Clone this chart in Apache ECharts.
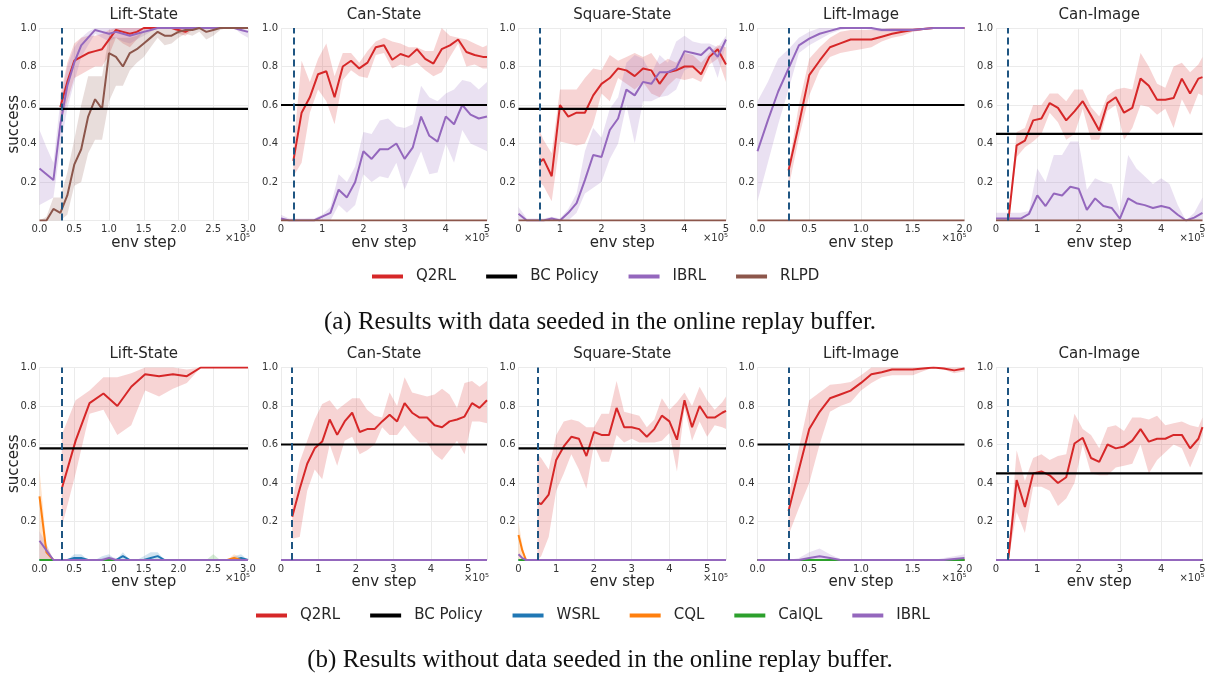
<!DOCTYPE html>
<html>
<head>
<meta charset="utf-8">
<script src="https://cdn.jsdelivr.net/npm/echarts@6/dist/echarts.min.js"></script>
<style>
html, body { margin: 0; padding: 0; background: #fff; }
#chart { width: 1206px; height: 675px; }
</style>
</head>
<body>
<div id="chart"></div>
<script>
// ------------------------------------------------------------------ //
// labels
const titles = ['Lift-State', 'Can-State', 'Square-State', 'Lift-Image', 'Can-Image'];
const captionA = '(a) Results with data seeded in the online replay buffer.';
const captionB = '(b) Results without data seeded in the online replay buffer.';
const legendA = ['Q2RL', 'BC Policy', 'IBRL', 'RLPD'];
const legendB = ['Q2RL', 'BC Policy', 'WSRL', 'CQL', 'CalQL', 'IBRL'];

// x extents (x10^5 env steps), tick step, BC policy level, seeding step
const xMaxA = [3, 5, 5, 2, 5];
const xMaxB = [3, 5.5, 5.5, 2, 5];
const xTickStep = [0.5, 1, 1, 0.5, 1];
const bcA = [0.58, 0.6, 0.58, 0.6, 0.45];
const bcB = [0.58, 0.6, 0.58, 0.6, 0.45];
const seedStep = [0.32, 0.3, 0.5, 0.3, 0.28];

// shared x grids
const xTenth3 = [0, 0.1, 0.2, 0.3, 0.4, 0.5, 0.6, 0.7, 0.8, 0.9, 1.0, 1.1, 1.2, 1.3, 1.4, 1.5, 1.6, 1.7, 1.8, 1.9, 2.0, 2.1, 2.2, 2.3, 2.4, 2.5, 2.6, 2.7, 2.8, 2.9, 3.0];
const xTenth2 = [0, 0.1, 0.2, 0.3, 0.4, 0.5, 0.6, 0.7, 0.8, 0.9, 1.0, 1.1, 1.2, 1.3, 1.4, 1.5, 1.6, 1.7, 1.8, 1.9, 2.0];
const xFifth5 = [0, 0.2, 0.4, 0.6, 0.8, 1.0, 1.2, 1.4, 1.6, 1.8, 2.0, 2.2, 2.4, 2.6, 2.8, 3.0, 3.2, 3.4, 3.6, 3.8, 4.0, 4.2, 4.4, 4.6, 4.8, 5.0];
const xOdd5 = [0.3, 0.5, 0.7, 0.9, 1.1, 1.3, 1.5, 1.7, 1.9, 2.1, 2.3, 2.5, 2.7, 2.9, 3.1, 3.3, 3.5, 3.7, 3.9, 4.1, 4.3, 4.5, 4.7, 4.9, 5.0];

// ---------------- (a) with seeded data ---------------- //
// Lift-State
const aLiftQ2X = [0.3, 0.4, 0.5, 0.6, 0.7, 0.8, 0.9, 1.0, 1.1, 1.2, 1.3, 1.4, 1.5, 1.6, 1.7, 1.8, 1.9, 2.0, 2.1, 2.2, 2.3, 2.4, 2.5, 2.6, 2.7, 2.8, 2.9, 3.0];
const aLiftQ2 = [0.59, 0.72, 0.83, 0.85, 0.87, 0.88, 0.89, 0.94, 0.99, 0.98, 0.97, 0.98, 1, 1, 1, 1, 1, 0.99, 0.98, 1, 1, 1, 1, 1, 1, 1, 1, 1];
const aLiftQ2Hi = [0.65, 0.82, 0.92, 0.95, 0.96, 0.96, 0.97, 0.99, 1, 1, 1, 1, 1, 1, 1, 1, 1, 1, 1, 1, 1, 1, 1, 1, 1, 1, 1, 1];
const aLiftQ2Lo = [0.50, 0.62, 0.74, 0.76, 0.78, 0.80, 0.80, 0.86, 0.95, 0.92, 0.90, 0.94, 0.98, 1, 1, 1, 1, 0.97, 0.96, 0.99, 1, 1, 1, 1, 1, 1, 1, 1];
const aLiftIb = [0.27, 0.24, 0.21, 0.50, 0.70, 0.82, 0.91, 0.95, 0.99, 0.98, 0.97, 0.98, 0.97, 0.96, 0.97, 0.98, 0.99, 1, 1, 1, 1, 1, 1, 1, 1, 1, 1, 1, 1, 0.99, 0.98];
const aLiftIbHi = [0.47, 0.38, 0.30, 0.62, 0.80, 0.90, 0.95, 0.98, 1, 1, 1, 1, 1, 1, 1, 1, 1, 1, 1, 1, 1, 1, 1, 1, 1, 1, 1, 1, 1, 1, 0.99];
const aLiftIbLo = [0.08, 0.10, 0.12, 0.38, 0.58, 0.72, 0.85, 0.91, 0.97, 0.95, 0.93, 0.95, 0.93, 0.92, 0.94, 0.96, 0.98, 1, 1, 1, 1, 1, 1, 1, 1, 1, 1, 1, 1, 0.97, 0.95];
const aLiftRl = [0, 0, 0.06, 0.04, 0.13, 0.29, 0.37, 0.54, 0.63, 0.58, 0.87, 0.85, 0.80, 0.87, 0.89, 0.92, 0.95, 0.98, 0.96, 0.96, 0.98, 0.99, 0.99, 1, 0.98, 0.99, 1, 1, 1, 1, 1];
const aLiftRlHi = [0, 0.02, 0.12, 0.12, 0.25, 0.42, 0.60, 0.75, 0.75, 0.75, 0.96, 0.95, 0.95, 0.95, 0.96, 0.98, 0.99, 1, 1, 1, 1, 1, 1, 1, 1, 1, 1, 1, 1, 1, 1];
const aLiftRlLo = [0, 0, 0, 0, 0.03, 0.18, 0.20, 0.35, 0.42, 0.42, 0.62, 0.70, 0.70, 0.78, 0.82, 0.85, 0.90, 0.95, 0.91, 0.92, 0.95, 0.97, 0.96, 0.98, 0.94, 0.96, 0.99, 1, 1, 1, 1];

// Can-State
const aCanQ2 = [0.31, 0.56, 0.64, 0.76, 0.775, 0.64, 0.80, 0.83, 0.79, 0.82, 0.90, 0.91, 0.835, 0.865, 0.85, 0.89, 0.84, 0.815, 0.89, 0.91, 0.94, 0.875, 0.86, 0.85, 0.85];
const aCanQ2Hi = [0.37, 0.83, 0.72, 0.84, 0.92, 0.75, 0.87, 0.87, 0.82, 0.88, 0.93, 0.95, 0.93, 0.92, 0.90, 0.90, 0.88, 0.88, 1.0, 0.96, 0.95, 0.94, 0.92, 0.90, 0.91];
const aCanQ2Lo = [0.23, 0.30, 0.56, 0.68, 0.62, 0.50, 0.73, 0.78, 0.75, 0.74, 0.86, 0.87, 0.79, 0.81, 0.80, 0.82, 0.78, 0.75, 0.77, 0.85, 0.92, 0.80, 0.81, 0.79, 0.79];
const aCanIb = [0.01, 0, 0, 0, 0, 0.02, 0.04, 0.16, 0.12, 0.20, 0.36, 0.32, 0.37, 0.37, 0.40, 0.32, 0.38, 0.54, 0.44, 0.41, 0.54, 0.50, 0.60, 0.55, 0.53, 0.54];
const aCanIbHi = [0.03, 0.01, 0.01, 0.01, 0.01, 0.03, 0.07, 0.24, 0.20, 0.28, 0.46, 0.45, 0.52, 0.53, 0.49, 0.48, 0.50, 0.70, 0.64, 0.62, 0.66, 0.68, 0.73, 0.72, 0.68, 0.72];
const aCanIbLo = [0, 0, 0, 0, 0, 0, 0, 0.08, 0.04, 0.08, 0.24, 0.20, 0.23, 0.22, 0.30, 0.16, 0.26, 0.36, 0.24, 0.25, 0.40, 0.30, 0.47, 0.40, 0.38, 0.36];

// Square-State
const aSqQ2X = [0.5, 0.6, 0.8, 1.0, 1.2, 1.4, 1.6, 1.8, 2.0, 2.2, 2.4, 2.6, 2.8, 3.0, 3.2, 3.4, 3.6, 3.8, 4.0, 4.2, 4.4, 4.6, 4.8, 5.0];
const aSqQ2 = [0.30, 0.32, 0.23, 0.60, 0.54, 0.56, 0.56, 0.65, 0.71, 0.74, 0.79, 0.78, 0.75, 0.79, 0.78, 0.71, 0.77, 0.78, 0.80, 0.80, 0.76, 0.85, 0.89, 0.81];
const aSqQ2Hi = [0.47, 0.42, 0.35, 0.68, 0.68, 0.68, 0.74, 0.79, 0.78, 0.86, 0.83, 0.85, 0.87, 0.85, 0.87, 0.81, 0.84, 0.82, 0.87, 0.86, 0.82, 0.87, 0.91, 0.90];
const aSqQ2Lo = [0.20, 0.18, 0.10, 0.41, 0.40, 0.39, 0.40, 0.50, 0.66, 0.62, 0.74, 0.71, 0.68, 0.72, 0.66, 0.64, 0.70, 0.74, 0.73, 0.74, 0.72, 0.81, 0.84, 0.72];
const aSqIb = [0.035, 0, 0, 0, 0.01, 0, 0.04, 0.09, 0.21, 0.34, 0.33, 0.47, 0.53, 0.68, 0.65, 0.72, 0.71, 0.77, 0.77, 0.79, 0.88, 0.87, 0.86, 0.90, 0.85, 0.94];
const aSqIbHi = [0.07, 0.01, 0.01, 0.01, 0.02, 0.01, 0.06, 0.14, 0.36, 0.48, 0.43, 0.58, 0.64, 0.82, 0.86, 0.84, 0.76, 0.86, 0.82, 0.93, 0.96, 0.93, 0.92, 0.92, 0.90, 0.96];
const aSqIbLo = [0, 0, 0, 0, 0, 0, 0, 0.04, 0.14, 0.17, 0.20, 0.32, 0.40, 0.60, 0.40, 0.62, 0.62, 0.64, 0.65, 0.68, 0.78, 0.80, 0.78, 0.86, 0.74, 0.92];

// Lift-Image
const aLiImQ2X = [0.3, 0.4, 0.5, 0.6, 0.7, 0.8, 0.9, 1.0, 1.1, 1.2, 1.3, 1.4, 1.5, 1.6, 1.7, 1.8, 1.9, 2.0];
const aLiImQ2 = [0.26, 0.50, 0.755, 0.83, 0.90, 0.92, 0.94, 0.94, 0.94, 0.955, 0.97, 0.98, 0.99, 0.995, 1, 1, 1, 1];
const aLiImQ2Hi = [0.28, 0.60, 0.84, 0.90, 0.95, 0.98, 0.99, 0.99, 0.99, 0.995, 1, 1, 1, 1, 1, 1, 1, 1];
const aLiImQ2Lo = [0.17, 0.43, 0.65, 0.78, 0.85, 0.87, 0.88, 0.89, 0.90, 0.93, 0.95, 0.96, 0.98, 0.99, 1, 1, 1, 1];
const aLiImIb = [0.36, 0.52, 0.67, 0.79, 0.91, 0.945, 0.97, 0.985, 1, 1, 1, 1, 0.99, 0.99, 0.99, 0.99, 0.995, 1, 1, 1, 1];
const aLiImIbHi = [0.62, 0.72, 0.84, 0.89, 0.95, 0.98, 1, 1, 1, 1, 1, 1, 1, 1, 1, 1, 1, 1, 1, 1, 1];
const aLiImIbLo = [0.10, 0.30, 0.50, 0.68, 0.87, 0.91, 0.94, 0.97, 0.99, 1, 1, 0.99, 0.98, 0.98, 0.98, 0.98, 0.99, 1, 1, 1, 1];

// Can-Image
const aCaImQ2 = [0, 0.39, 0.415, 0.52, 0.53, 0.61, 0.585, 0.52, 0.567, 0.62, 0.546, 0.468, 0.61, 0.64, 0.56, 0.585, 0.737, 0.70, 0.627, 0.627, 0.636, 0.737, 0.66, 0.737, 0.745];
const aCaImQ2Hi = [0, 0.46, 0.48, 0.60, 0.60, 0.66, 0.66, 0.62, 0.68, 0.68, 0.59, 0.54, 0.65, 0.68, 0.69, 0.68, 0.87, 0.80, 0.71, 0.69, 0.80, 0.82, 0.77, 0.81, 0.85];
const aCaImQ2Lo = [0, 0.33, 0.38, 0.41, 0.45, 0.56, 0.51, 0.42, 0.45, 0.58, 0.42, 0.42, 0.57, 0.60, 0.42, 0.48, 0.60, 0.59, 0.55, 0.58, 0.48, 0.63, 0.55, 0.66, 0.65];
const aCaImIb = [0.01, 0.01, 0.01, 0.01, 0.035, 0.13, 0.075, 0.14, 0.13, 0.175, 0.165, 0.055, 0.115, 0.075, 0.065, 0.01, 0.115, 0.09, 0.08, 0.065, 0.075, 0.065, 0.03, 0, 0.015, 0.04];
const aCaImIbHi = [0.04, 0.04, 0.04, 0.04, 0.05, 0.27, 0.20, 0.34, 0.34, 0.41, 0.41, 0.16, 0.22, 0.20, 0.19, 0.05, 0.34, 0.27, 0.23, 0.19, 0.22, 0.19, 0.08, 0, 0.04, 0.12];
const aCaImIbLo = [0, 0, 0, 0, 0, 0, 0, 0, 0, 0, 0, 0, 0, 0, 0, 0, 0, 0, 0, 0, 0, 0, 0, 0, 0, 0];

// RLPD stays at zero outside Lift-State
const zeroX5 = [0, 5];
const zeroX2 = [0, 2];
const zeroPair = [0, 0];

// ---------------- (b) without seeded data ---------------- //
// Lift-State
const bLiftQ2X = [0.32, 0.52, 0.72, 0.92, 1.12, 1.32, 1.52, 1.72, 1.92, 2.12, 2.32, 2.52, 2.72, 2.92, 3.0];
const bLiftQ2 = [0.37, 0.62, 0.815, 0.865, 0.80, 0.90, 0.965, 0.955, 0.965, 0.955, 1, 1, 1, 1, 1];
const bLiftQ2Hi = [0.65, 0.83, 0.88, 0.95, 0.95, 0.97, 1, 1, 1, 0.99, 1, 1, 1, 1, 1];
const bLiftQ2Lo = [0.17, 0.45, 0.76, 0.78, 0.65, 0.70, 0.88, 0.85, 0.89, 0.92, 1, 1, 1, 1, 1];
const bLiftWs = [0, 0, 0, 0, 0, 0.01, 0.01, 0, 0, 0, 0, 0, 0.02, 0, 0, 0, 0.01, 0.02, 0, 0, 0, 0, 0, 0, 0, 0, 0, 0, 0, 0.01, 0];
const bLiftWsHi = [0, 0, 0, 0, 0, 0.03, 0.03, 0, 0, 0.02, 0.03, 0, 0.04, 0, 0, 0.02, 0.04, 0.04, 0, 0, 0, 0, 0, 0, 0, 0, 0, 0, 0.02, 0.03, 0];
const bLiftCq = [0.33, 0.04, 0, 0, 0, 0, 0, 0, 0, 0, 0, 0, 0, 0, 0, 0, 0, 0, 0, 0, 0, 0, 0, 0, 0, 0, 0, 0, 0.01, 0, 0];
const bLiftCqHi = [0.47, 0.08, 0, 0, 0, 0, 0, 0, 0, 0, 0, 0, 0, 0, 0, 0, 0, 0, 0, 0, 0, 0, 0, 0, 0, 0, 0, 0, 0.03, 0.01, 0];
const bLiftCa = [0, 0, 0, 0, 0, 0, 0, 0, 0, 0, 0, 0, 0, 0, 0, 0, 0, 0, 0, 0, 0, 0, 0, 0, 0, 0, 0, 0, 0, 0, 0];
const bLiftCaHi = [0, 0, 0, 0, 0, 0, 0, 0, 0, 0, 0, 0, 0, 0, 0, 0, 0, 0, 0, 0, 0, 0, 0, 0, 0, 0.03, 0, 0, 0, 0, 0];
const bLiftIb = [0.10, 0.05, 0, 0, 0, 0, 0, 0, 0, 0, 0.01, 0, 0, 0, 0, 0, 0, 0, 0, 0, 0, 0, 0, 0, 0, 0, 0, 0, 0, 0, 0];
const bLiftIbHi = [0.15, 0.08, 0, 0, 0, 0, 0, 0, 0, 0.01, 0.02, 0.01, 0, 0, 0, 0, 0, 0, 0, 0, 0, 0, 0, 0, 0, 0, 0, 0, 0, 0, 0];
const bLiftZero = [0, 0, 0, 0, 0, 0, 0, 0, 0, 0, 0, 0, 0, 0, 0, 0, 0, 0, 0, 0, 0, 0, 0, 0, 0, 0, 0, 0, 0, 0, 0];

// Can-State
const bCanQ2X = [0.3, 0.5, 0.7, 0.9, 1.1, 1.3, 1.5, 1.7, 1.9, 2.1, 2.3, 2.5, 2.7, 2.9, 3.1, 3.3, 3.5, 3.7, 3.9, 4.1, 4.3, 4.5, 4.7, 4.9, 5.1, 5.3, 5.5];
const bCanQ2 = [0.225, 0.37, 0.50, 0.58, 0.615, 0.73, 0.65, 0.72, 0.765, 0.665, 0.68, 0.68, 0.72, 0.755, 0.72, 0.815, 0.765, 0.74, 0.74, 0.70, 0.69, 0.72, 0.73, 0.745, 0.815, 0.79, 0.83];
const bCanQ2Hi = [0.30, 0.51, 0.62, 0.73, 0.81, 0.83, 0.78, 0.81, 0.84, 0.84, 0.78, 0.75, 0.74, 0.87, 0.80, 0.95, 0.87, 0.86, 0.85, 0.86, 0.89, 0.86, 0.79, 0.92, 0.93, 0.90, 0.93];
const bCanQ2Lo = [0.11, 0.12, 0.36, 0.47, 0.42, 0.60, 0.49, 0.62, 0.64, 0.55, 0.57, 0.60, 0.69, 0.65, 0.65, 0.70, 0.65, 0.61, 0.61, 0.55, 0.52, 0.57, 0.62, 0.55, 0.72, 0.72, 0.71];
const zeroX55 = [0, 5.5];

// Square-State
const bSqQ2X = [0.5, 0.6, 0.8, 1.0, 1.2, 1.4, 1.6, 1.8, 2.0, 2.2, 2.4, 2.6, 2.8, 3.0, 3.2, 3.4, 3.6, 3.8, 4.0, 4.2, 4.4, 4.6, 4.8, 5.0, 5.2, 5.4, 5.5];
const bSqQ2 = [0.30, 0.29, 0.34, 0.52, 0.59, 0.64, 0.63, 0.54, 0.665, 0.65, 0.65, 0.79, 0.69, 0.69, 0.68, 0.64, 0.68, 0.75, 0.72, 0.625, 0.83, 0.69, 0.80, 0.74, 0.74, 0.765, 0.775];
const bSqQ2Hi = [0.55, 0.53, 0.47, 0.65, 0.72, 0.73, 0.72, 0.69, 0.69, 0.76, 0.76, 0.93, 0.77, 0.76, 0.75, 0.69, 0.73, 0.84, 0.78, 0.82, 0.87, 0.80, 0.90, 0.83, 0.78, 0.82, 0.85];
const bSqQ2Lo = [0.0, 0.02, 0.12, 0.36, 0.45, 0.55, 0.47, 0.37, 0.60, 0.51, 0.51, 0.65, 0.61, 0.63, 0.61, 0.61, 0.61, 0.62, 0.66, 0.46, 0.79, 0.62, 0.72, 0.64, 0.70, 0.69, 0.68];
const bSqBaseX = [0, 0.1, 0.2, 5.5];
const bSqCq = [0.13, 0.05, 0, 0];
const bSqCqHi = [0.20, 0.08, 0, 0];
const bSqIb = [0.03, 0.01, 0, 0];
const bSqZero = [0, 0, 0, 0];

// Lift-Image
const bLiImQ2 = [0.255, 0.47, 0.68, 0.77, 0.84, 0.86, 0.88, 0.92, 0.965, 0.975, 0.99, 0.99, 0.99, 0.995, 1.0, 0.995, 0.985, 0.995];
const bLiImQ2Hi = [0.33, 0.58, 0.83, 0.87, 0.91, 0.915, 0.925, 0.96, 1, 1, 1, 1, 1, 1, 1, 1, 1, 1];
const bLiImQ2Lo = [0.13, 0.27, 0.40, 0.60, 0.77, 0.80, 0.82, 0.88, 0.92, 0.95, 0.96, 0.96, 0.96, 0.98, 1, 0.99, 0.97, 0.98];
const bLiImIb = [0, 0, 0, 0, 0, 0.01, 0.02, 0.01, 0, 0, 0, 0, 0, 0, 0, 0, 0, 0, 0, 0.005, 0.01];
const bLiImIbHi = [0, 0, 0, 0, 0.01, 0.04, 0.06, 0.03, 0.005, 0, 0, 0, 0, 0, 0, 0, 0, 0, 0.01, 0.02, 0.03];
const bLiImIbLo = [0, 0, 0, 0, 0, 0, 0, 0, 0, 0, 0, 0, 0, 0, 0, 0, 0, 0, 0, 0, 0];

// Can-Image
const bCaImQ2 = [0.01, 0.415, 0.275, 0.45, 0.46, 0.44, 0.40, 0.43, 0.605, 0.635, 0.53, 0.51, 0.60, 0.58, 0.59, 0.62, 0.68, 0.615, 0.63, 0.63, 0.65, 0.65, 0.58, 0.63, 0.69];
const bCaImQ2Hi = [0.03, 0.57, 0.41, 0.53, 0.55, 0.52, 0.54, 0.55, 0.76, 0.68, 0.65, 0.58, 0.69, 0.70, 0.67, 0.74, 0.74, 0.73, 0.75, 0.70, 0.71, 0.72, 0.70, 0.69, 0.74];
const bCaImQ2Lo = [0, 0.25, 0.14, 0.38, 0.38, 0.36, 0.28, 0.32, 0.40, 0.60, 0.45, 0.44, 0.44, 0.48, 0.49, 0.50, 0.60, 0.45, 0.52, 0.56, 0.60, 0.58, 0.48, 0.58, 0.65];

// ------------------------------------------------------------------ //
const colors = {
    Q2RL: '#d62728', IBRL: '#9467bd', RLPD: '#8c564b',
    WSRL: '#1f77b4', CQL: '#ff7f0e', CalQL: '#2ca02c'
};

const panelLeft = [39.5, 281, 518.5, 757.5, 996];
const panelWidth = [208.5, 206, 207.5, 207, 206.5];
const rowTop = [28, 367.5];
const rowHeight = 192.5;
const FONT = 'DejaVu Sans';

const legendBase = {
    padding: 0, icon: 'rect', itemWidth: 31, itemHeight: 4, itemGap: 30,
    textStyle: { fontSize: 15, color: '#262626', padding: [0, 0, 0, 8], fontFamily: FONT }
};

const option = {
    animation: false,
    backgroundColor: '#ffffff',
    textStyle: { fontFamily: FONT },
    grid: [], xAxis: [], yAxis: [], series: [], graphic: [],
    legend: [
        Object.assign({ data: legendA, left: 372, top: 269 }, legendBase),
        Object.assign({ data: legendB, left: 256, top: 608 }, legendBase)
    ]
};

function curve (name, x, y, lo, hi) {
    return { name, x, y, lo, hi, color: colors[name] };
}

function bandSeries (k, c) {
    return {
        type: 'custom', xAxisIndex: k, yAxisIndex: k, silent: true, z: 1,
        data: [[c.x[0], c.y[0]]],
        renderItem (params, api) {
            const upper = c.x.map((x, i) => api.coord([x, c.hi[i]]));
            const lower = c.x.map((x, i) => api.coord([x, c.lo[i]])).reverse();
            return {
                type: 'polygon',
                shape: { points: upper.concat(lower) },
                style: { fill: c.color, opacity: 0.2 }
            };
        }
    };
}

function addPanel (row, col, xMax, bc, curves) {

    const k = option.grid.length;
    const left = panelLeft[col], width = panelWidth[col], top = rowTop[row];
    const step = xTickStep[col];

    option.grid.push({ left, top, width, height: rowHeight, outerBoundsMode: 'none' });

    option.xAxis.push({
        type: 'value', gridIndex: k, min: 0, max: xMax, interval: step,
        axisLine: { show: false }, axisTick: { show: false },
        splitLine: { lineStyle: { color: '#ebebeb', width: 1 } },
        axisLabel: {
            fontSize: 10, color: '#333', margin: 4, fontFamily: FONT,
            formatter: v => Math.abs(v / step - Math.round(v / step)) > 1e-6 ? '' : v.toFixed(step < 1 ? 1 : 0)
        },
        name: 'env step', nameLocation: 'middle', nameGap: 14,
        nameTextStyle: { fontSize: 15, color: '#262626', fontFamily: FONT }
    });

    option.yAxis.push({
        type: 'value', gridIndex: k, min: 0, max: 1, interval: 0.2,
        axisLine: { show: false }, axisTick: { show: false },
        splitLine: { lineStyle: { color: '#ebebeb', width: 1 } },
        axisLabel: {
            fontSize: 10, color: '#333', margin: 3, fontFamily: FONT,
            formatter: v => v === 0 ? '' : v.toFixed(1)
        }
    });

    // panel title, y label and x scale note
    option.graphic.push({
        type: 'text', x: left + width / 2, y: top - 13, silent: true,
        style: { text: titles[col], fill: '#262626', font: '15px "' + FONT + '"', align: 'center', verticalAlign: 'middle' }
    });
    option.graphic.push({
        type: 'text', x: left + width + 2, y: top + rowHeight + 18, silent: true,
        style: { text: '×10⁵', fill: '#333', font: '10px "' + FONT + '"', align: 'right', verticalAlign: 'middle' }
    });
    if (col === 0) {
        option.graphic.push({
            type: 'text', x: 14, y: top + rowHeight / 2, rotation: Math.PI / 2, silent: true,
            style: { text: 'success', fill: '#262626', font: '15px "' + FONT + '"', align: 'center', verticalAlign: 'middle' }
        });
    }

    curves.forEach(c => {
        if (c.hi) option.series.push(bandSeries(k, c));
    });

    curves.forEach(c => {
        option.series.push({
            type: 'line', name: c.name, xAxisIndex: k, yAxisIndex: k,
            data: c.x.map((x, i) => [x, c.y[i]]),
            symbol: 'none', showSymbol: false, z: 3,
            lineStyle: { color: c.color, width: 2 },
            itemStyle: { color: c.color }
        });
    });

    option.series.push({
        type: 'line', name: 'BC Policy', xAxisIndex: k, yAxisIndex: k,
        data: [[0, bc], [xMax, bc]],
        symbol: 'none', showSymbol: false, z: 4,
        lineStyle: { color: '#000', width: 2.2 },
        itemStyle: { color: '#000' },
        markLine: {
            silent: true, symbol: 'none', label: { show: false },
            lineStyle: { color: '#1f5582', type: [7, 4], width: 2 },
            data: [{ xAxis: seedStep[col] }]
        }
    });
}

// ---------------- row (a) ---------------- //
addPanel(0, 0, xMaxA[0], bcA[0], [
    curve('Q2RL', aLiftQ2X, aLiftQ2, aLiftQ2Lo, aLiftQ2Hi),
    curve('IBRL', xTenth3, aLiftIb, aLiftIbLo, aLiftIbHi),
    curve('RLPD', xTenth3, aLiftRl, aLiftRlLo, aLiftRlHi)
]);
addPanel(0, 1, xMaxA[1], bcA[1], [
    curve('Q2RL', xOdd5, aCanQ2, aCanQ2Lo, aCanQ2Hi),
    curve('IBRL', xFifth5, aCanIb, aCanIbLo, aCanIbHi),
    curve('RLPD', zeroX5, zeroPair)
]);
addPanel(0, 2, xMaxA[2], bcA[2], [
    curve('Q2RL', aSqQ2X, aSqQ2, aSqQ2Lo, aSqQ2Hi),
    curve('IBRL', xFifth5, aSqIb, aSqIbLo, aSqIbHi),
    curve('RLPD', zeroX5, zeroPair)
]);
addPanel(0, 3, xMaxA[3], bcA[3], [
    curve('Q2RL', aLiImQ2X, aLiImQ2, aLiImQ2Lo, aLiImQ2Hi),
    curve('IBRL', xTenth2, aLiImIb, aLiImIbLo, aLiImIbHi),
    curve('RLPD', zeroX2, zeroPair)
]);
addPanel(0, 4, xMaxA[4], bcA[4], [
    curve('Q2RL', xOdd5, aCaImQ2, aCaImQ2Lo, aCaImQ2Hi),
    curve('IBRL', xFifth5, aCaImIb, aCaImIbLo, aCaImIbHi),
    curve('RLPD', zeroX5, zeroPair)
]);

// ---------------- row (b) ---------------- //
addPanel(1, 0, xMaxB[0], bcB[0], [
    curve('Q2RL', bLiftQ2X, bLiftQ2, bLiftQ2Lo, bLiftQ2Hi),
    curve('WSRL', xTenth3, bLiftWs, bLiftZero, bLiftWsHi),
    curve('CQL', xTenth3, bLiftCq, bLiftZero, bLiftCqHi),
    curve('CalQL', xTenth3, bLiftCa, bLiftZero, bLiftCaHi),
    curve('IBRL', xTenth3, bLiftIb, bLiftZero, bLiftIbHi)
]);
addPanel(1, 1, xMaxB[1], bcB[1], [
    curve('Q2RL', bCanQ2X, bCanQ2, bCanQ2Lo, bCanQ2Hi),
    curve('WSRL', zeroX55, zeroPair),
    curve('CQL', zeroX55, zeroPair),
    curve('CalQL', zeroX55, zeroPair),
    curve('IBRL', zeroX55, zeroPair)
]);
addPanel(1, 2, xMaxB[2], bcB[2], [
    curve('Q2RL', bSqQ2X, bSqQ2, bSqQ2Lo, bSqQ2Hi),
    curve('WSRL', bSqBaseX, bSqZero),
    curve('CQL', bSqBaseX, bSqCq, bSqZero, bSqCqHi),
    curve('CalQL', bSqBaseX, bSqZero),
    curve('IBRL', bSqBaseX, bSqIb)
]);
addPanel(1, 3, xMaxB[3], bcB[3], [
    curve('Q2RL', aLiImQ2X, bLiImQ2, bLiImQ2Lo, bLiImQ2Hi),
    curve('WSRL', zeroX2, zeroPair),
    curve('CQL', zeroX2, zeroPair),
    curve('CalQL', zeroX2, zeroPair),
    curve('IBRL', xTenth2, bLiImIb, bLiImIbLo, bLiImIbHi)
]);
addPanel(1, 4, xMaxB[4], bcB[4], [
    curve('Q2RL', xOdd5, bCaImQ2, bCaImQ2Lo, bCaImQ2Hi),
    curve('WSRL', zeroX5, zeroPair),
    curve('CQL', zeroX5, zeroPair),
    curve('CalQL', zeroX5, zeroPair),
    curve('IBRL', zeroX5, zeroPair)
]);

// captions
option.graphic.push({
    type: 'text', x: 600, y: 322, silent: true,
    style: { text: captionA, fill: '#111', font: '25px "Liberation Serif"', align: 'center', verticalAlign: 'middle' }
});
option.graphic.push({
    type: 'text', x: 600, y: 660, silent: true,
    style: { text: captionB, fill: '#111', font: '25px "Liberation Serif"', align: 'center', verticalAlign: 'middle' }
});

const chart = echarts.init(document.getElementById('chart'), null, { renderer: 'canvas' });
chart.setOption(option);
</script>
</body>
</html>
